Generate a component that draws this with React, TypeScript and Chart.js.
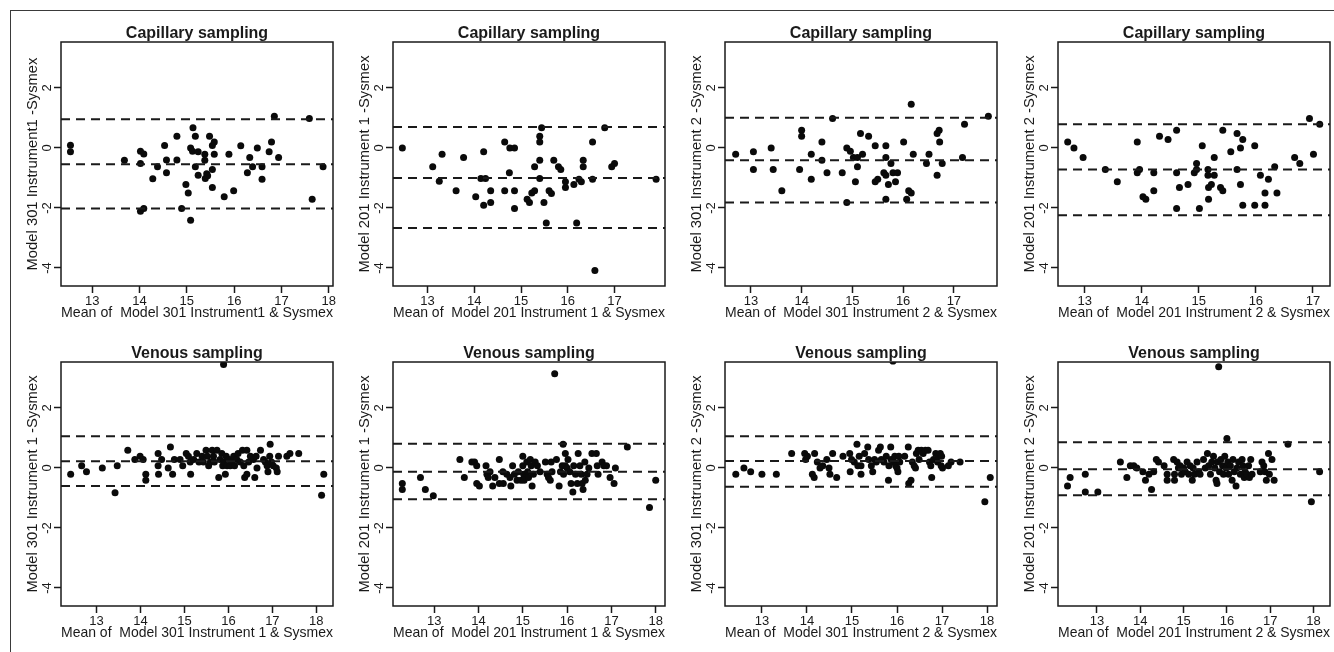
import React, { useEffect, useRef } from "react";
import { Chart, registerables } from "chart.js";
Chart.register(...registerables);

const FONT = "'Liberation Sans', Arial, Helvetica, sans-serif";
const INK = "#1a1a1a";

// ---------- shared axis values ----------
const yTickValues = [-4, -2, 0, 2];
const yRange = [-4.6, 3.53];
const rowTitles = ["Capillary sampling", "Venous sampling"];

// ---------- panel texts ----------
const xLabels = [
  "Mean of  Model 301 Instrument1 & Sysmex",
  "Mean of  Model 201 Instrument 1 & Sysmex",
  "Mean of  Model 301 Instrument 2 & Sysmex",
  "Mean of  Model 201 Instrument 2 & Sysmex",
  "Mean of  Model 301 Instrument 1 & Sysmex",
  "Mean of  Model 201 Instrument 1 & Sysmex",
  "Mean of  Model 301 Instrument 2 & Sysmex",
  "Mean of  Model 201 Instrument 2 & Sysmex",
];
const yLabels = [
  "Model 301 Instrument1 -Sysmex",
  "Model 201 Instrument 1 -Sysmex",
  "Model 301 Instrument 2 -Sysmex",
  "Model 201 Instrument 2 -Sysmex",
  "Model 301 Instrument 1 -Sysmex",
  "Model 201 Instrument 1 -Sysmex",
  "Model 301 Instrument 2 -Sysmex",
  "Model 201 Instrument 2 -Sysmex",
];

// ---------- x axis ticks & ranges ----------
const xTicks13to17 = [13, 14, 15, 16, 17];
const xTicks13to18 = [13, 14, 15, 16, 17, 18];
const xTickSets = [xTicks13to18, xTicks13to17, xTicks13to17, xTicks13to17, xTicks13to18, xTicks13to18, xTicks13to18, xTicks13to18];
const xRanges = [
  [12.34, 18.09], [12.26, 18.08], [12.49, 17.85], [12.53, 17.3],
  [12.19, 18.38], [12.07, 18.21], [12.18, 18.22], [12.1, 18.38],
];

// ---------- bias & limits of agreement [upper, mean, lower] ----------
const linesCap301i1 = [0.96, -0.54, -2.02];
const linesCap201i1 = [0.7, -1.0, -2.67];
const linesCap301i2 = [1.01, -0.41, -1.82];
const linesCap201i2 = [0.79, -0.72, -2.24];
const linesVen301i1 = [1.06, 0.22, -0.6];
const linesVen201i1 = [0.81, -0.13, -1.04];
const linesVen301i2 = [1.06, 0.23, -0.63];
const linesVen201i2 = [0.86, -0.04, -0.91];

// ---------- points [mean, difference] ----------
const ptsCap301i1 = [
  [12.54, 0.09], [12.54, -0.13], [13.68, -0.41], [14.02, -0.11], [14.09, -0.2], [14.02, -0.52], [14.02, -2.11], [14.09, -2.02],
  [14.28, -1.03], [14.38, -0.63], [14.53, 0.08], [14.57, -0.4], [14.57, -0.83], [14.79, 0.39], [14.79, -0.4], [14.89, -2.02],
  [14.98, -1.22], [15.03, -1.5], [15.08, -2.41], [15.08, 0.0], [15.13, 0.67], [15.12, -0.11], [15.18, 0.39], [15.18, -0.63],
  [15.24, -0.91], [15.24, -0.13], [15.38, -0.21], [15.38, -0.41], [15.39, -1.02], [15.42, -0.86], [15.44, -0.93], [15.48, 0.39],
  [15.54, -0.72], [15.54, -1.32], [15.54, 0.08], [15.58, 0.2], [15.58, -0.21], [15.79, -1.63], [15.89, -0.21], [15.99, -1.43],
  [16.14, 0.07], [16.28, -0.83], [16.33, -0.32], [16.39, -0.63], [16.49, 0.0], [16.59, -0.63], [16.59, -1.04], [16.74, -0.13],
  [16.79, 0.2], [16.85, 1.06], [16.94, -0.32], [17.59, 0.98], [17.65, -1.71], [17.88, -0.63],
];
const ptsCap201i1 = [
  [12.46, 0], [13.11, -0.63], [13.25, -1.11], [13.31, -0.21], [13.61, -1.43], [13.77, -0.32], [14.03, -1.63], [14.14, -1.02],
  [14.2, -1.91], [14.2, -0.13], [14.24, -1.02], [14.35, -1.43], [14.35, -1.82], [14.65, 0.2], [14.65, -1.43], [14.75, -0.83],
  [14.76, 0], [14.86, 0], [14.86, -1.43], [14.86, -2.02], [15.13, -1.71], [15.18, -1.82], [15.23, -1.5], [15.29, -1.43],
  [15.29, -0.63], [15.4, 0.39], [15.4, 0.2], [15.44, 0.67], [15.4, -0.41], [15.4, -1.02], [15.49, -1.82], [15.54, -2.5],
  [15.6, -1.43], [15.65, -1.52], [15.7, -0.41], [15.8, -0.63], [15.85, -0.72], [15.95, -1.32], [15.95, -1.13], [16.13, -1.22],
  [16.24, -1.04], [16.29, -1.13], [16.19, -2.5], [16.33, -0.41], [16.33, -0.63], [16.53, 0.2], [16.53, -1.04], [16.58, -4.08],
  [16.79, 0.67], [16.94, -0.63], [17.0, -0.52], [17.89, -1.04],
];
const ptsCap301i2 = [
  [12.7, -0.21], [13.05, -0.13], [13.05, -0.72], [13.4, 0], [13.44, -0.72], [13.61, -1.43], [14.0, 0.59], [14.0, 0.39],
  [13.96, -0.72], [14.19, -0.21], [14.19, -1.04], [14.4, 0.2], [14.4, -0.41], [14.5, -0.83], [14.61, 0.98], [14.8, -0.83],
  [14.89, 0], [14.96, -0.11], [14.89, -1.82], [15.02, -0.32], [15.06, -1.13], [15.1, -0.63], [15.1, -0.32], [15.16, 0.48],
  [15.2, -0.21], [15.32, 0.39], [15.45, -1.13], [15.5, -1.04], [15.45, 0.07], [15.62, -0.83], [15.66, 0.07], [15.66, -0.32],
  [15.66, -0.91], [15.71, -1.22], [15.66, -1.71], [15.76, -0.52], [15.8, -0.83], [15.85, -1.13], [15.89, -0.83], [16.01, 0.2],
  [16.07, -1.71], [16.11, -1.43], [16.16, -1.5], [16.16, 1.46], [16.2, -0.21], [16.46, -0.52], [16.51, -0.21], [16.67, 0.48],
  [16.71, 0.59], [16.72, 0.2], [16.67, -0.91], [16.77, -0.52], [17.17, -0.32], [17.21, 0.79], [17.68, 1.06],
];
const ptsCap201i2 = [
  [12.7, 0.2], [12.81, 0], [12.97, -0.32], [13.36, -0.72], [13.57, -1.13], [13.92, 0.2], [13.92, -0.83], [13.96, -0.72],
  [14.02, -1.63], [14.07, -1.71], [14.21, -0.83], [14.21, -1.43], [14.31, 0.39], [14.46, 0.28], [14.61, 0.59], [14.61, -0.83],
  [14.61, -2.02], [14.66, -1.32], [14.81, -1.22], [14.92, -0.83], [14.96, -0.52], [14.96, -0.72], [15.01, -2.02], [15.06, 0.07],
  [15.16, -0.72], [15.16, -0.91], [15.17, -1.71], [15.17, -1.32], [15.22, -1.22], [15.27, -0.32], [15.27, -0.91], [15.38, -1.32],
  [15.42, -1.43], [15.42, 0.59], [15.56, -0.13], [15.67, 0.48], [15.67, -0.72], [15.73, 0], [15.73, -1.22], [15.77, 0.28],
  [15.77, -1.91], [15.98, 0.07], [15.98, -1.91], [16.08, -0.91], [16.16, -1.5], [16.16, -1.91], [16.22, -1.04], [16.33, -0.63],
  [16.37, -1.5], [16.68, -0.32], [16.77, -0.52], [16.94, 0.98], [17.01, -0.21], [17.12, 0.79],
];
const ptsVen301i1 = [
  [12.41, -0.21], [12.66, 0.07], [12.77, -0.13], [13.13, 0], [13.42, -0.83], [13.47, 0.07], [13.71, 0.59], [13.87, 0.28],
  [13.99, 0.39], [14.06, 0.28], [14.12, -0.21], [14.12, -0.41], [14.4, 0.48], [14.4, 0.07], [14.41, -0.21], [14.48, 0.28],
  [14.63, 0], [14.68, 0.7], [14.73, -0.21], [14.77, 0.28], [14.9, 0.28], [14.96, 0.07], [15.04, 0.48], [15.09, 0.39],
  [15.13, 0.2], [15.14, -0.21], [15.21, 0.28], [15.28, 0.48], [15.33, 0.2], [15.4, 0.39], [15.43, 0.2], [15.49, 0.59],
  [15.52, 0.39], [15.55, 0.07], [15.59, 0.2], [15.63, 0.59], [15.66, 0.39], [15.68, 0.2], [15.74, 0.59], [15.78, -0.32],
  [15.81, 0.28], [15.85, 0.48], [15.87, 0.07], [15.89, 3.45], [15.9, 0.2], [15.93, -0.21], [15.95, 0.39], [15.97, 0.07],
  [16.01, 0.28], [16.04, 0.07], [16.08, 0.2], [16.12, 0.39], [16.14, 0.07], [16.19, 0.28], [16.22, 0.48], [16.27, 0.2],
  [16.32, 0.59], [16.35, 0.07], [16.37, -0.32], [16.42, 0.59], [16.42, -0.21], [16.46, 0.2], [16.5, 0.39], [16.57, 0.28],
  [16.6, -0.32], [16.63, 0.39], [16.65, 0], [16.73, 0.59], [16.8, 0.28], [16.84, 0.2], [16.88, 0.07], [16.9, -0.13],
  [16.94, 0.39], [16.95, 0.79], [16.98, 0.2], [17.02, 0.07], [17.09, 0], [17.11, -0.13], [17.14, 0.39], [17.33, 0.39],
  [17.4, 0.48], [17.6, 0.48], [18.12, -0.91], [18.17, -0.21],
];
const ptsVen201i1 = [
  [12.28, -0.52], [12.28, -0.72], [12.69, -0.32], [12.8, -0.72], [12.98, -0.93], [13.58, 0.28], [13.68, -0.32], [13.85, 0.2],
  [13.91, 0.2], [13.96, 0.07], [13.96, -0.52], [14.02, -0.6], [14.17, 0.07], [14.19, -0.21], [14.22, -0.32], [14.26, -0.13],
  [14.32, -0.6], [14.37, -0.32], [14.47, 0.28], [14.47, -0.52], [14.55, -0.13], [14.56, -0.52], [14.64, -0.21], [14.71, -0.32],
  [14.73, -0.6], [14.77, 0.07], [14.81, -0.21], [14.87, -0.41], [14.9, -0.13], [14.96, -0.41], [15.0, 0.39], [15.0, 0.07],
  [15.02, -0.21], [15.03, -0.41], [15.09, 0.2], [15.11, -0.13], [15.13, -0.32], [15.17, 0.28], [15.19, 0.07], [15.21, -0.6],
  [15.24, -0.21], [15.28, 0.2], [15.33, 0.07], [15.39, -0.13], [15.51, 0.2], [15.55, -0.21], [15.58, -0.32], [15.62, -0.41],
  [15.64, 0.2], [15.66, -0.13], [15.72, 3.14], [15.76, 0.28], [15.82, -0.6], [15.85, -0.13], [15.89, 0.07], [15.91, 0.79],
  [15.92, -0.21], [15.96, 0.48], [15.96, 0.07], [16.0, 0], [16.02, 0.28], [16.06, -0.13], [16.09, -0.52], [16.13, -0.8],
  [16.15, 0.07], [16.19, -0.21], [16.23, -0.52], [16.25, 0.48], [16.29, 0.07], [16.32, -0.21], [16.34, -0.52], [16.36, -0.72],
  [16.4, 0.2], [16.41, -0.41], [16.45, -0.21], [16.49, 0], [16.56, 0.48], [16.66, 0.48], [16.68, 0.07], [16.7, -0.21],
  [16.79, 0.2], [16.83, 0.07], [16.89, 0.07], [16.97, -0.32], [17.06, -0.52], [17.09, 0], [17.36, 0.7], [17.86, -1.32],
  [18.0, -0.41],
];
const ptsVen301i2 = [
  [12.42, -0.21], [12.6, 0], [12.75, -0.13], [13.0, -0.21], [13.32, -0.21], [13.66, 0.48], [13.95, 0.48], [13.97, 0.28],
  [14.01, 0.39], [14.12, -0.21], [14.16, -0.32], [14.17, 0.48], [14.23, 0.2], [14.29, 0], [14.35, 0.07], [14.44, 0.28],
  [14.49, 0], [14.51, -0.21], [14.57, 0.48], [14.66, -0.32], [14.8, 0.39], [14.95, 0.48], [14.96, -0.13], [14.99, 0.28],
  [15.05, 0.2], [15.11, 0.79], [15.13, 0.07], [15.16, 0.39], [15.2, -0.21], [15.2, 0.07], [15.28, 0.48], [15.35, 0.7],
  [15.37, 0.28], [15.43, 0.07], [15.46, -0.13], [15.5, 0.28], [15.54, 0.2], [15.59, 0.59], [15.63, 0.7], [15.65, 0.28],
  [15.71, 0.2], [15.76, 0.39], [15.81, -0.41], [15.82, 0.07], [15.86, 0.7], [15.87, 0.28], [15.91, 3.56], [15.93, 0.2],
  [15.95, 0.39], [15.97, 0.07], [16.0, 0], [16.02, -0.13], [16.04, 0.39], [16.06, 0.2], [16.17, 0.39], [16.25, 0.7],
  [16.26, -0.52], [16.31, -0.41], [16.34, 0.2], [16.38, 0.07], [16.41, 0], [16.43, 0.48], [16.47, 0.59], [16.49, 0.28],
  [16.54, 0.59], [16.58, 0.48], [16.63, 0.59], [16.69, 0.59], [16.72, 0.2], [16.75, 0.07], [16.77, -0.32], [16.81, 0.28],
  [16.86, 0.48], [16.9, 0.2], [16.92, 0.39], [16.96, 0.48], [16.98, 0.07], [16.99, 0.39], [17.01, 0], [17.14, 0.07],
  [17.2, 0.2], [17.4, 0.2], [17.95, -1.13], [18.07, -0.32],
];
const ptsVen201i2 = [
  [12.32, -0.6], [12.38, -0.32], [12.73, -0.21], [12.73, -0.8], [13.02, -0.8], [13.54, 0.2], [13.69, -0.32], [13.77, 0.07],
  [13.85, 0.07], [13.92, 0], [14.06, -0.13], [14.12, -0.41], [14.2, -0.21], [14.26, -0.72], [14.31, -0.13], [14.37, 0.28],
  [14.42, 0.2], [14.55, 0.07], [14.62, -0.21], [14.62, -0.41], [14.77, 0.28], [14.79, -0.21], [14.79, -0.41], [14.85, 0.2],
  [14.88, 0], [14.92, 0.07], [14.95, -0.21], [15.0, 0], [15.04, -0.13], [15.08, 0.2], [15.12, -0.21], [15.15, 0.07],
  [15.2, -0.41], [15.22, 0], [15.25, -0.21], [15.31, 0.2], [15.35, -0.13], [15.38, -0.21], [15.46, 0.28], [15.5, 0],
  [15.55, 0.48], [15.58, 0.07], [15.62, -0.21], [15.65, 0.2], [15.69, 0.39], [15.72, 0], [15.75, -0.41], [15.77, -0.52],
  [15.78, 0.2], [15.81, 3.37], [15.83, -0.13], [15.86, 0.28], [15.9, 0.07], [15.92, -0.21], [15.95, 0.39], [15.98, 0],
  [16.0, 0.98], [16.02, 0.2], [16.04, -0.21], [16.08, 0.07], [16.12, -0.41], [16.14, 0.28], [16.17, -0.13], [16.21, -0.6],
  [16.23, 0], [16.27, 0.2], [16.31, -0.21], [16.35, 0.28], [16.37, 0.07], [16.4, -0.32], [16.42, -0.13], [16.46, -0.21],
  [16.5, 0.07], [16.52, -0.32], [16.55, 0.28], [16.58, -0.21], [16.77, -0.13], [16.81, 0.2], [16.85, 0.07], [16.88, -0.13],
  [16.91, -0.41], [16.96, 0.48], [16.98, -0.21], [17.04, 0.28], [17.09, -0.41], [17.41, 0.79], [17.95, -1.13], [18.14, -0.13],
];

const pointSets = [ptsCap301i1, ptsCap201i1, ptsCap301i2, ptsCap201i2, ptsVen301i1, ptsVen201i1, ptsVen301i2, ptsVen201i2];
const lineSets = [linesCap301i1, linesCap201i1, linesCap301i2, linesCap201i2, linesVen301i1, linesVen201i1, linesVen301i2, linesVen201i2];

// ---------- layout (plot box positions) ----------
const boxLefts = [61, 393, 725, 1058];
const boxTops = [42, 362];
const BOX_W = 272;
const BOX_H = 244;
const PAD_TOP = 32;
const Y_AXIS_W = 50;
const X_AXIS_H = 38;
const PAD_RIGHT = 4;

const panelPlugin = {
  id: "rPanel",
  afterDraw(chart: any) {
    const { ctx, chartArea } = chart;
    const o = chart.options.plugins.rPanel;
    ctx.save();
    ctx.strokeStyle = INK;
    ctx.lineWidth = 1.5;
    ctx.strokeRect(chartArea.left, chartArea.top, chartArea.right - chartArea.left, chartArea.bottom - chartArea.top);
    ctx.fillStyle = INK;
    ctx.font = `bold 16px ${FONT}`;
    ctx.textAlign = "center";
    ctx.textBaseline = "alphabetic";
    ctx.fillText(o.title, (chartArea.left + chartArea.right) / 2, chartArea.top - 4);
    const ys = chart.scales.y;
    ctx.font = `13px ${FONT}`;
    ctx.textBaseline = "middle";
    for (const t of ys.ticks) {
      const py = ys.getPixelForValue(t.value);
      ctx.save();
      ctx.translate(chartArea.left - 13.5, py);
      ctx.rotate(-Math.PI / 2);
      ctx.fillText(String(t.value), 0, 0);
      ctx.restore();
    }
    ctx.restore();
  },
};

function Panel({ idx }: { idx: number }) {
  const ref = useRef<HTMLCanvasElement | null>(null);
  const col = idx % 4;
  const row = Math.floor(idx / 4);
  const width = Y_AXIS_W + BOX_W + PAD_RIGHT;
  const height = PAD_TOP + BOX_H + X_AXIS_H;
  useEffect(() => {
    if (!ref.current) return;
    const [xMin, xMax] = xRanges[idx];
    const xTicks = xTickSets[idx];
    const lines = lineSets[idx];
    const pts = pointSets[idx];
    const lineDatasets = lines.map((v) => ({
      type: "line" as const,
      data: [{ x: xMin, y: v }, { x: xMax, y: v }],
      borderColor: INK,
      borderWidth: 2,
      borderDash: [9, 6],
      pointRadius: 0,
      showLine: true,
      fill: false,
    }));
    const chart = new Chart(ref.current, {
      type: "scatter",
      data: {
        datasets: [
          ...lineDatasets,
          {
            type: "scatter" as const,
            data: pts.map(([x, y]) => ({ x, y })),
            backgroundColor: "#0a0a0a",
            borderWidth: 0,
            pointRadius: 3.5,
            pointHoverRadius: 3.5,
            clip: 0,
          },
        ] as any,
      },
      options: {
        responsive: false,
        animation: false,
        devicePixelRatio: 1,
        events: [],
        layout: { padding: { top: PAD_TOP, right: PAD_RIGHT, left: 0, bottom: 0 } },
        plugins: {
          legend: { display: false },
          tooltip: { enabled: false },
          title: { display: false },
          rPanel: { title: rowTitles[row] },
        } as any,
        scales: {
          x: {
            type: "linear",
            position: "bottom",
            min: xMin,
            max: xMax,
            afterBuildTicks: (s: any) => {
              s.ticks = xTicks.map((v) => ({ value: v }));
            },
            afterFit: (s: any) => {
              s.height = X_AXIS_H;
              s.paddingLeft = 0;
              s.paddingRight = 0;
            },
            ticks: {
              font: { family: FONT, size: 13 },
              color: INK,
              padding: 1,
              autoSkip: false,
              maxRotation: 0,
              minRotation: 0,
              callback: (v: any) => String(v),
            },
            grid: {
              display: true,
              drawOnChartArea: false,
              drawTicks: true,
              tickLength: 7,
              tickWidth: 1.5,
              tickColor: INK,
              color: INK,
            },
            border: { display: false },
            title: {
              display: true,
              text: xLabels[idx],
              font: { family: FONT, size: 14.8 },
              color: INK,
              padding: { top: 0, bottom: 2 },
            },
          },
          y: {
            type: "linear",
            position: "left",
            min: yRange[0],
            max: yRange[1],
            afterBuildTicks: (s: any) => {
              s.ticks = yTickValues.map((v) => ({ value: v }));
            },
            afterFit: (s: any) => {
              s.width = Y_AXIS_W;
              s.paddingTop = 0;
              s.paddingBottom = 0;
            },
            ticks: { display: false },
            grid: {
              display: true,
              drawOnChartArea: false,
              drawTicks: true,
              tickLength: 7,
              tickWidth: 1.5,
              tickColor: INK,
              color: INK,
            },
            border: { display: false },
            title: {
              display: true,
              text: yLabels[idx],
              font: { family: FONT, size: 14.8 },
              color: INK,
              padding: { top: 13, bottom: 0 },
            },
          },
        },
      } as any,
      plugins: [panelPlugin],
    });
    return () => chart.destroy();
  }, [idx]);
  return (
    <canvas
      ref={ref}
      width={width}
      height={height}
      style={{
        position: "absolute",
        left: boxLefts[col] - Y_AXIS_W,
        top: boxTops[row] - PAD_TOP,
        width,
        height,
      }}
    />
  );
}

export default function App() {
  const ids = [0, 1, 2, 3, 4, 5, 6, 7];
  return (
    <div
      style={{
        position: "absolute",
        left: 0,
        top: 0,
        width: 1334,
        height: 652,
        overflow: "hidden",
        background: "#ffffff",
      }}
    >
      <div style={{ position: "absolute", left: 10, top: 10, width: 1324, height: 1, background: "#3a3a3a" }} />
      <div style={{ position: "absolute", left: 10, top: 10, width: 1, height: 642, background: "#3a3a3a" }} />
      {ids.map((i) => (
        <Panel key={i} idx={i} />
      ))}
    </div>
  );
}
